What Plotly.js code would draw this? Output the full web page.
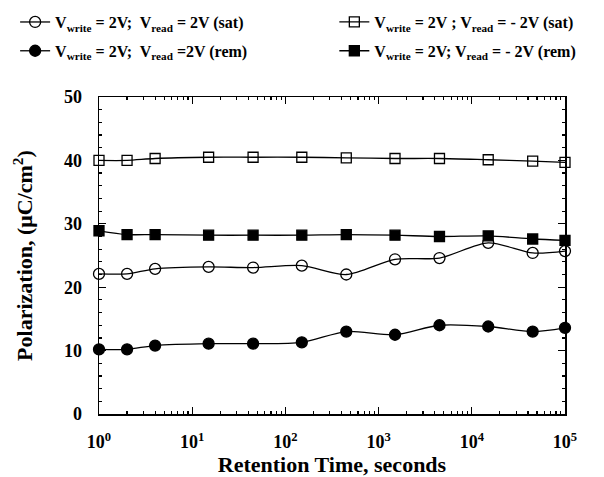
<!DOCTYPE html>
<html>
<head>
<meta charset="utf-8">
<script src="https://cdn.plot.ly/plotly-3.0.1.min.js"></script>
<style>html,body{margin:0;padding:0;background:#fff;}#chart{width:604px;height:477px;}</style>
</head>
<body>
<div id="chart"></div>
<script>
var timeSec = [1, 2, 4, 15, 45, 150, 450, 1500, 4500, 15000, 45000, 100000];
var satPos = [22.1, 22.1, 22.9, 23.2, 23.1, 23.4, 22.0, 24.4, 24.6, 27.0, 25.4, 25.7];
var satNeg = [40.0, 40.0, 40.3, 40.5, 40.5, 40.5, 40.4, 40.3, 40.3, 40.1, 39.9, 39.7];
var remPos = [10.2, 10.2, 10.8, 11.1, 11.1, 11.3, 13.0, 12.5, 14.0, 13.8, 13.0, 13.6];
var remNeg = [28.9, 28.3, 28.3, 28.2, 28.2, 28.2, 28.3, 28.2, 28.0, 28.1, 27.6, 27.4];
var seriesNames = [
  "V<sub>write</sub> = 2V;  V<sub>read</sub> = 2V (sat)",
  "V<sub>write</sub> = 2V ; V<sub>read</sub> = - 2V (sat)",
  "V<sub>write</sub> = 2V;  V<sub>read</sub> =2V (rem)",
  "V<sub>write</sub> = 2V; V<sub>read</sub> = - 2V (rem)"
];
var xTickVals = [1, 10, 100, 1000, 10000, 100000];
var xTickText = ["10<sup>0</sup>", "10<sup>1</sup>", "10<sup>2</sup>", "10<sup>3</sup>", "10<sup>4</sup>", "10<sup>5</sup>"];

var F = "Liberation Serif, Times New Roman, serif";
function tr(y, name, sym, sz, leg, grp) {
  return {
    x: timeSec, y: y, name: name, type: "scatter", mode: "lines+markers",
    legend: leg, legendgroup: grp,
    line: {color: "#000", width: 1.3, shape: "spline", smoothing: 0.8},
    marker: {symbol: sym, size: sz, color: "#000", line: {color: "#000", width: 1.3}},
    cliponaxis: false
  };
}
var data = [
  tr(satPos, seriesNames[0], "circle-open", 11, "legend", "a"),
  tr(satNeg, seriesNames[1], "square-open", 10, "legend2", "b"),
  tr(remPos, seriesNames[2], "circle", 11, "legend", "c"),
  tr(remNeg, seriesNames[3], "square", 10, "legend2", "d")
];
function leg(x) {
  return {
    orientation: "v", x: x, y: 1.29, xanchor: "left", yanchor: "top",
    traceorder: "grouped", tracegroupgap: 5,
    font: {family: F, size: 16, weight: "bold", color: "#000"},
    bgcolor: "rgba(0,0,0,0)", borderwidth: 0
  };
}
var layout = {
  width: 604, height: 477,
  margin: {l: 99, r: 39, t: 97, b: 63, autoexpand: false},
  paper_bgcolor: "#fff", plot_bgcolor: "#fff",
  font: {family: F, color: "#000"},
  showlegend: true,
  legend: leg(-0.18),
  legend2: leg(0.505),
  xaxis: {
    type: "log", range: [0, 5],
    tickvals: xTickVals, ticktext: xTickText,
    ticks: "inside", ticklen: 7, tickwidth: 1.2, tickcolor: "#000",
    minor: {ticks: "inside", ticklen: 3, tickcolor: "#000", dtick: "D1"},
    showline: true, linecolor: "#000", linewidth: 1.5, mirror: "ticks",
    showgrid: false, zeroline: false, ticklabelstandoff: 11,
    tickfont: {family: F, size: 18, weight: "bold"},
    title: {text: "Retention Time, seconds", font: {family: F, size: 22, weight: "bold"}, standoff: 0}
  },
  yaxis: {
    range: [0, 50], dtick: 10,
    ticks: "inside", ticklen: 7, tickwidth: 1.2, tickcolor: "#000",
    minor: {ticks: "inside", ticklen: 3, tickcolor: "#000", dtick: 2},
    showline: true, linecolor: "#000", linewidth: 1.5, mirror: "ticks",
    showgrid: false, zeroline: false, ticklabelstandoff: 12,
    tickfont: {family: F, size: 18, weight: "bold"},
    title: {text: "Polarization, (μC/cm<sup>2</sup>)", font: {family: F, size: 22, weight: "bold"}, standoff: 25}
  }
};
Plotly.newPlot("chart", data, layout, {displayModeBar: false, staticPlot: true});
</script>
</body>
</html>
